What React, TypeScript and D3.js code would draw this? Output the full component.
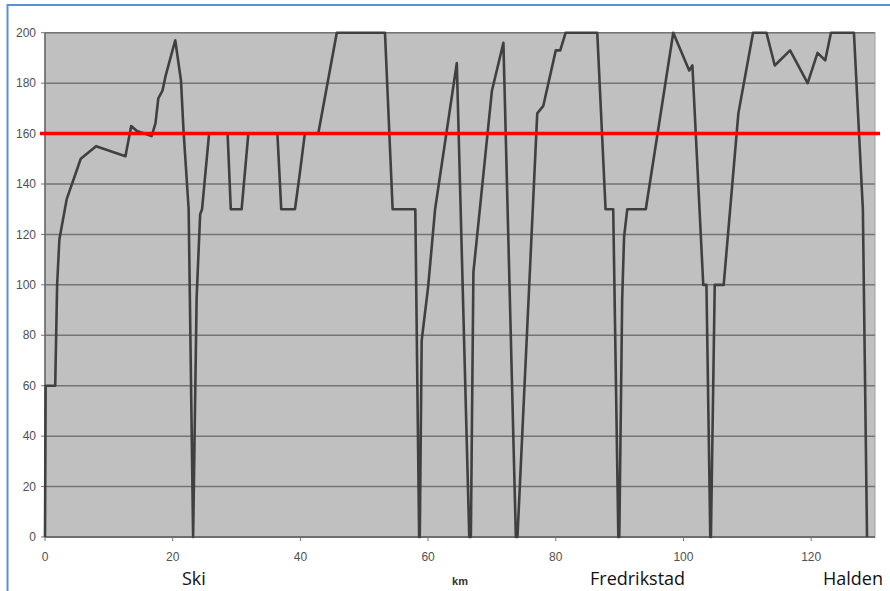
import * as d3 from "d3";

// distance along the line (km) and permitted speed (km/h)
const km = [
  0, 0.1, 1.6, 1.9, 2.25, 3.4, 5.6, 8.0, 12.6, 13.5, 14.4, 16.7, 17.3, 17.75,
  18.4, 18.9, 20.4, 21.3, 21.7, 22.5, 23.2, 23.75, 24.3, 24.6, 25.7, 28.6, 29.1,
  30.8, 31.85, 36.4, 37.0, 39.15, 39.9, 40.7, 42.8, 45.7, 53.25, 54.45, 58.0,
  58.6, 58.7, 59.0, 60.0, 61.1, 64.5, 66.45, 66.7, 67.1, 70.0, 71.8, 73.75,
  74.0, 77.1, 78.05, 80.0, 80.7, 81.55, 86.5, 87.8, 89.0, 89.8, 89.95, 90.4,
  90.7, 91.2, 94.1, 98.4, 100.9, 101.4, 103.1, 103.6, 104.2, 104.3, 104.9,
  106.3, 108.6, 110.9, 113.0, 114.3, 116.7, 119.45, 121.0, 122.2, 123.1, 126.7,
  128.1, 128.75,
];
const speed = [
  0, 60, 60, 100, 118, 134, 150, 155, 151, 163, 161, 159, 164, 174, 177, 183,
  197, 181, 161, 130, 0, 95, 128, 130, 160, 160, 130, 130, 160, 160, 130, 130,
  144, 160, 160, 200, 200, 130, 130, 0, 0, 78, 99, 130, 188, 0, 0, 105, 177,
  196, 0, 0, 168, 171, 193, 193, 200, 200, 130, 130, 0, 0, 94, 119, 130, 130,
  200, 185, 187, 100, 100, 0, 0, 100, 100, 168, 200, 200, 187, 193, 180, 192,
  189, 200, 200, 130, 0,
];

const limit = 160;
const xTicks = [0, 20, 40, 60, 80, 100, 120];
const yTicks = [0, 20, 40, 60, 80, 100, 120, 140, 160, 180, 200];
const places = [
  { name: "Ski", left: 182 },
  { name: "Fredrikstad", left: 590 },
  { name: "Halden", left: 823 },
];

export default function App() {
  const width = 890;
  const height = 591;
  const x = d3.scaleLinear().domain([0, 130]).range([45, 875]);
  const y = d3.scaleLinear().domain([0, 200]).range([537, 32.7]);

  const pts = km.map((k, i) => [k, speed[i]] as [number, number]);
  const line = d3
    .line<[number, number]>()
    .x((d) => x(d[0]))
    .y((d) => y(d[1]));

  const [x0, x1] = x.range();
  const [yb, yt] = y.range();

  return (
    <svg
      width={width}
      height={height}
      style={{ position: "absolute", left: 0, top: 0, background: "#fff" }}
    >
      {/* blue frame */}
      <rect x={7.5} y={5} width={920} height={620} fill="none" stroke="#5b8fd8" strokeWidth={2} />

      {/* plot area */}
      <rect x={x0} y={yt} width={x1 - x0} height={yb - yt} fill="#c0c0c0" stroke="#a0a0a0" strokeWidth={1} />

      {yTicks.map((t) => (
        <g key={"y" + t}>
          <line x1={x0} x2={x1} y1={y(t)} y2={y(t)} stroke="#747474" strokeWidth={1.5} />
          <line x1={x0 - 4} x2={x0} y1={y(t)} y2={y(t)} stroke="#747474" strokeWidth={1} />
          <text
            x={36}
            y={y(t)}
            dy="0.35em"
            textAnchor="end"
            fontFamily="Liberation Sans, Arial, sans-serif"
            fontSize={12}
            fill="#505050"
          >
            {t}
          </text>
        </g>
      ))}

      {/* axes */}
      <line x1={x0} x2={x0} y1={yt} y2={yb} stroke="#666" strokeWidth={1.5} />
      <line x1={x0} x2={x1} y1={yb} y2={yb} stroke="#666" strokeWidth={1.5} />

      {xTicks.map((t) => (
        <g key={"x" + t}>
          <line x1={x(t)} x2={x(t)} y1={yb} y2={yb + 4} stroke="#747474" strokeWidth={1} />
          <text
            x={x(t)}
            y={557}
            dy="0.35em"
            textAnchor="middle"
            fontFamily="Liberation Sans, Arial, sans-serif"
            fontSize={12}
            fill="#505050"
          >
            {t}
          </text>
        </g>
      ))}

      {/* speed profile */}
      <path d={line(pts) ?? ""} fill="none" stroke="#404040" strokeWidth={2.6} strokeLinejoin="round" />

      {/* limit line */}
      <line x1={40} x2={880} y1={y(limit)} y2={y(limit)} stroke="#ff0000" strokeWidth={3.5} />

      <text
        x={460}
        y={585}
        textAnchor="middle"
        fontFamily="Liberation Sans, Arial, sans-serif"
        fontSize={11}
        fontWeight="bold"
        fill="#333"
      >
        km
      </text>

      {places.map((p) => (
        <text key={p.name} x={p.left} y={585} fontFamily="Open Sans, sans-serif" fontSize={18} fill="#111">
          {p.name}
        </text>
      ))}
    </svg>
  );
}
